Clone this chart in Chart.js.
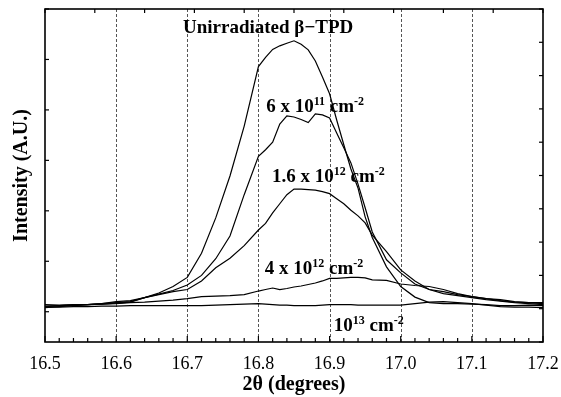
<!DOCTYPE html>
<html>
<head>
<meta charset="utf-8">
<script src="https://cdn.jsdelivr.net/npm/chart.js@4.4.1/dist/chart.umd.min.js"></script>
<style>
  html, body { margin: 0; padding: 0; background: #fff; }
  #wrap { width: 561px; height: 397px; }
</style>
</head>
<body>
<div id="wrap"><canvas id="xrd" width="561" height="397"></canvas></div>
<script>
// positions 2theta (degres)
const twoTheta = [16.50, 16.52, 16.54, 16.56, 16.58, 16.60, 16.62, 16.64, 16.66, 16.68,
                  16.70, 16.72, 16.74, 16.76, 16.78, 16.80, 16.81, 16.82, 16.83, 16.84,
                  16.85, 16.86, 16.87, 16.88, 16.89, 16.90, 16.91, 16.92, 16.93, 16.94,
                  16.95, 16.96, 16.98, 17.00, 17.02, 17.04, 17.06, 17.08, 17.10, 17.12,
                  17.14, 17.16, 17.18, 17.20];

// intensites (u.a.)
const unirradiated = [0.14, 0.13, 0.14, 0.14, 0.16, 0.18, 0.20, 0.28, 0.37, 0.50,
                      0.68, 1.16, 1.86, 2.69, 3.68, 4.86, 5.04, 5.20, 5.27, 5.32,
                      5.37, 5.30, 5.19, 4.97, 4.65, 4.32, 3.80, 3.31, 2.83, 2.45,
                      1.88, 1.47, 0.89, 0.50, 0.29, 0.18, 0.16, 0.16, 0.15, 0.14,
                      0.12, 0.12, 0.13, 0.12];
const dose6e11 = [0.10, 0.12, 0.13, 0.14, 0.16, 0.20, 0.22, 0.28, 0.35, 0.42,
                  0.53, 0.72, 1.05, 1.50, 2.32, 3.08, 3.21, 3.36, 3.72, 3.88,
                  3.86, 3.81, 3.75, 3.92, 3.90, 3.84, 3.54, 3.25, 2.95, 2.53,
                  2.06, 1.58, 1.03, 0.77, 0.55, 0.44, 0.40, 0.34, 0.30, 0.26,
                  0.24, 0.20, 0.18, 0.16];
const dose1_6e12 = [0.08, 0.10, 0.12, 0.14, 0.15, 0.17, 0.19, 0.28, 0.34, 0.40,
                    0.44, 0.61, 0.87, 1.06, 1.31, 1.62, 1.75, 1.96, 2.14, 2.32,
                    2.43, 2.43, 2.42, 2.41, 2.38, 2.34, 2.24, 2.14, 2.01, 1.90,
                    1.76, 1.52, 1.19, 0.83, 0.61, 0.44, 0.36, 0.32, 0.28, 0.24,
                    0.21, 0.18, 0.16, 0.14];
const dose4e12 = [0.11, 0.12, 0.13, 0.14, 0.15, 0.16, 0.18, 0.19, 0.21, 0.23,
                  0.26, 0.30, 0.31, 0.32, 0.34, 0.41, 0.44, 0.47, 0.44, 0.46,
                  0.49, 0.51, 0.54, 0.57, 0.61, 0.66, 0.66, 0.67, 0.68, 0.68,
                  0.67, 0.63, 0.62, 0.55, 0.52, 0.50, 0.44, 0.36, 0.30, 0.26,
                  0.22, 0.19, 0.18, 0.18];
const dose1e13 = [0.09, 0.09, 0.10, 0.10, 0.11, 0.11, 0.12, 0.12, 0.12, 0.12,
                  0.12, 0.12, 0.13, 0.14, 0.15, 0.16, 0.15, 0.14, 0.13, 0.13,
                  0.12, 0.12, 0.12, 0.12, 0.13, 0.14, 0.14, 0.14, 0.14, 0.13,
                  0.13, 0.13, 0.13, 0.13, 0.16, 0.19, 0.20, 0.18, 0.16, 0.13,
                  0.10, 0.09, 0.09, 0.08];

const xTickLabels = ['16.5', '16.6', '16.7', '16.8', '16.9', '17.0', '17.1', '17.2'];

// etiquettes des courbes : [texte, exposant ?]
const curveLabels = [
  [['Unirradiated β\u2212TPD', false]],
  [['6 x 10', false], ['11', true], [' cm', false], ['-2', true]],
  [['1.6 x 10', false], ['12', true], [' cm', false], ['-2', true]],
  [['4 x 10', false], ['12', true], [' cm', false], ['-2', true]],
  [['10', false], ['13', true], [' cm', false], ['-2', true]]
];
// ancrage des etiquettes (unites des axes : 2theta, intensite)
const labelAnchors = [[16.694, 5.52], [16.811, 3.96], [16.819, 2.58], [16.809, 0.75], [16.906, -0.39]];

const SERIF = '"Liberation Serif", "Times New Roman", serif';

function isMajor(v) {
    return Math.abs(v * 10 - Math.round(v * 10)) < 1e-6;
}

function toPoints(values) {
    return values.map((v, i) => ({ x: twoTheta[i], y: v }));
}

// Dessin du cadre, des graduations interieures et des etiquettes
const framePlugin = {
    id: 'frame',
    beforeDatasetsDraw(chart) {
        const { ctx, chartArea: a, scales } = chart;
        ctx.save();
        ctx.strokeStyle = '#555';
        ctx.lineWidth = 1;
        ctx.setLineDash([3, 2]);
        scales.x.ticks.forEach(t => {
            if (!isMajor(t.value)) return;
            const px = Math.round(scales.x.getPixelForValue(t.value)) + 0.5;
            if (px <= a.left + 2 || px >= a.right - 2) return;
            ctx.beginPath();
            ctx.moveTo(px, a.top);
            ctx.lineTo(px, a.bottom);
            ctx.stroke();
        });
        ctx.restore();
    },
    afterDatasetsDraw(chart) {
        const { ctx, chartArea: a, scales } = chart;
        ctx.save();
        ctx.strokeStyle = '#000';
        ctx.lineWidth = 1.2;

        // graduations en bas
        scales.x.ticks.forEach(t => {
            const px = scales.x.getPixelForValue(t.value);
            const len = isMajor(t.value) ? 6 : 4;
            ctx.beginPath(); ctx.moveTo(px, a.bottom); ctx.lineTo(px, a.bottom - len); ctx.stroke();
        });
        // graduations en haut
        scales.x2.ticks.forEach(t => {
            const px = scales.x2.getPixelForValue(t.value);
            ctx.beginPath(); ctx.moveTo(px, a.top); ctx.lineTo(px, a.top + 4); ctx.stroke();
        });
        // graduations a gauche
        scales.y.ticks.forEach(t => {
            if (t.value < 0) return;
            const py = scales.y.getPixelForValue(t.value);
            ctx.beginPath(); ctx.moveTo(a.left, py); ctx.lineTo(a.left + 4, py); ctx.stroke();
        });
        // graduations a droite
        scales.y2.ticks.forEach(t => {
            const py = scales.y2.getPixelForValue(t.value);
            ctx.beginPath(); ctx.moveTo(a.right, py); ctx.lineTo(a.right - 4, py); ctx.stroke();
        });

        ctx.lineWidth = 1.6;
        ctx.strokeRect(a.left, a.top, a.right - a.left, a.bottom - a.top);

        // etiquettes des courbes
        ctx.fillStyle = '#000';
        ctx.textBaseline = 'alphabetic';
        ctx.textAlign = 'left';
        curveLabels.forEach((parts, i) => {
            let px = scales.x.getPixelForValue(labelAnchors[i][0]);
            const py = scales.y.getPixelForValue(labelAnchors[i][1]);
            parts.forEach(([txt, sup]) => {
                ctx.font = sup ? 'bold 12px ' + SERIF : 'bold 19px ' + SERIF;
                ctx.fillText(txt, px, sup ? py - 7 : py);
                px += ctx.measureText(txt).width;
            });
        });
        ctx.restore();
    }
};

const ctx = document.getElementById('xrd').getContext('2d');

const lineStyle = {
    borderColor: '#000',
    borderWidth: 1.2,
    pointRadius: 0,
    tension: 0,
    fill: false
};

new Chart(ctx, {
    type: 'line',
    data: {
        datasets: [
            { label: 'Unirradiated', data: toPoints(unirradiated), ...lineStyle },
            { label: '6e11', data: toPoints(dose6e11), ...lineStyle },
            { label: '1.6e12', data: toPoints(dose1_6e12), ...lineStyle },
            { label: '4e12', data: toPoints(dose4e12), ...lineStyle },
            { label: '1e13', data: toPoints(dose1e13), ...lineStyle }
        ]
    },
    options: {
        responsive: false,
        animation: false,
        devicePixelRatio: 1,
        layout: { padding: 0 },
        plugins: { legend: { display: false }, tooltip: { enabled: false } },
        scales: {
            x: {
                type: 'linear',
                position: 'bottom',
                min: 16.5,
                max: 17.2,
                grid: { display: false },
                border: { display: false },
                ticks: {
                    stepSize: 0.02,
                    autoSkip: false,
                    maxRotation: 0,
                    padding: 3,
                    color: '#000',
                    font: { family: SERIF, size: 18 },
                    callback: v => isMajor(v) ? xTickLabels[Math.round((v - 16.5) * 10)] : ''
                },
                title: {
                    display: true,
                    text: '2θ (degrees)',
                    color: '#000',
                    font: { family: SERIF, size: 20, weight: 'bold' },
                    padding: { top: 0, bottom: 0 }
                },
                afterFit: s => { s.height = 55; s.paddingLeft = 0; s.paddingRight = 0; }
            },
            x2: {
                type: 'linear',
                position: 'top',
                min: 0,
                max: 10,
                grid: { display: false },
                border: { display: false },
                ticks: { display: false, stepSize: 1 },
                afterFit: s => { s.height = 9; s.paddingLeft = 0; s.paddingRight = 0; }
            },
            y: {
                position: 'left',
                min: -0.6,
                max: 6,
                grid: { display: false },
                border: { display: false },
                ticks: { display: false, stepSize: 1 },
                title: {
                    display: true,
                    text: 'Intensity (A.U.)',
                    color: '#000',
                    font: { family: SERIF, size: 20, weight: 'bold' },
                    padding: { top: 10, bottom: 0 }
                },
                afterFit: s => { s.width = 45; s.paddingTop = 0; s.paddingBottom = 0; }
            },
            y2: {
                position: 'right',
                min: 0,
                max: 10,
                grid: { display: false },
                border: { display: false },
                ticks: { display: false, stepSize: 1 },
                afterFit: s => { s.width = 18; s.paddingTop = 0; s.paddingBottom = 0; }
            }
        }
    },
    plugins: [framePlugin]
});
</script>
</body>
</html>
